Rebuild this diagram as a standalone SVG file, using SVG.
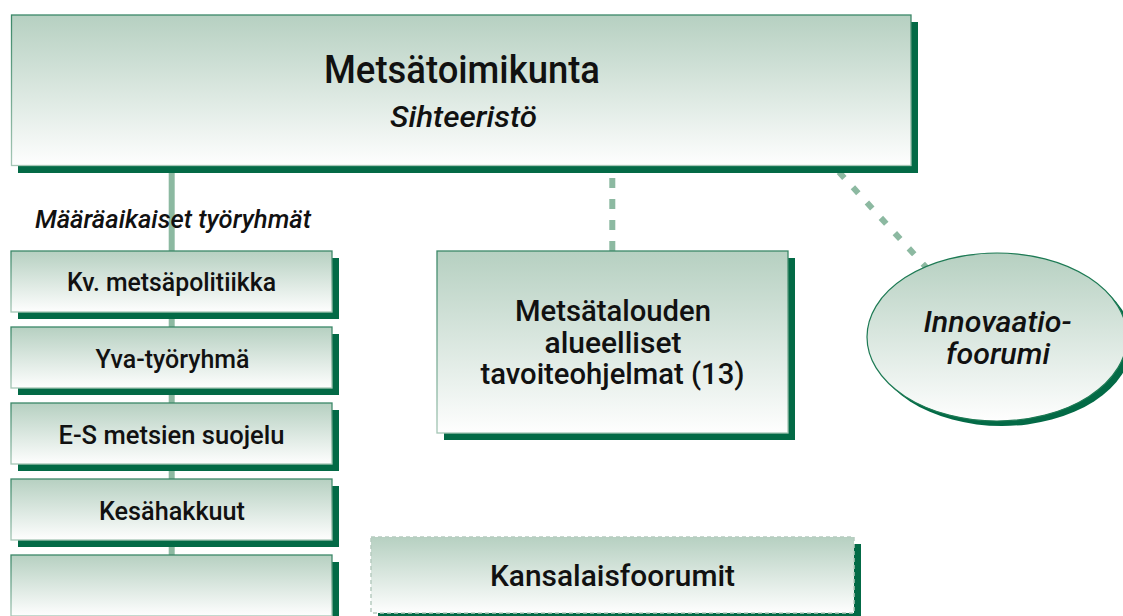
<svg xmlns="http://www.w3.org/2000/svg" width="1123" height="616" viewBox="0 0 1123 616">
<defs>
<linearGradient id="fill" x1="0" y1="0" x2="0" y2="1">
<stop offset="0" stop-color="#b6d0c1"/>
<stop offset="1" stop-color="#fefefe"/>
</linearGradient>
<linearGradient id="edge" x1="0" y1="0" x2="0" y2="1">
<stop offset="0" stop-color="#3a8767"/>
<stop offset="1" stop-color="#a5c6b5"/>
</linearGradient>
<style>
.box{fill:url(#fill);stroke:url(#edge);stroke-width:1.3}
.dashbox{fill:url(#fill);stroke:#b7ccc0;stroke-width:1.5;stroke-dasharray:4 3}
.ell{fill:url(#fill);stroke:#1d7a54;stroke-width:1.2}
.shadow{fill:#036a46}
.t{font-family:Roboto,"Liberation Sans",Arial,sans-serif;font-weight:500;fill:#111;text-anchor:middle}
.i{font-style:italic}
.s25{font-size:25px}
.s30{font-size:30px}
.conn{stroke:#8cb9a1;stroke-width:6;fill:none}
</style>
</defs>
<rect width="1123" height="616" fill="#ffffff"/>
<g id="connectors">
<line class="conn" x1="171.7" y1="165" x2="171.7" y2="616"/>
<line class="conn" x1="612.3" y1="178" x2="612.3" y2="251" stroke-dasharray="10 11"/>
<line class="conn" x1="811" y1="141.5" x2="935" y2="277" stroke-dasharray="8 12.7"/>
</g>
<g id="node-metsatoimikunta">
<rect class="shadow" x="18" y="22" width="900" height="151"/>
<rect class="box" x="11.5" y="15" width="899.5" height="150.5"/>
<text class="t" x="462" y="83" font-size="38" textLength="276" lengthAdjust="spacingAndGlyphs">Metsätoimikunta</text>
<text class="t i" x="463.5" y="127" font-size="30" textLength="147" lengthAdjust="spacingAndGlyphs">Sihteeristö</text>
</g>
<g id="label-maaraaikaiset">
<text class="t i s25" x="35" y="228" style="text-anchor:start" textLength="276" lengthAdjust="spacingAndGlyphs">Määräaikaiset työryhmät</text>
</g>
<g id="node-kv">
<rect class="shadow" x="18" y="258" width="321" height="61"/>
<rect class="box" x="11" y="251" width="321" height="61"/>
<text class="t s25" x="171.5" y="291" textLength="209" lengthAdjust="spacingAndGlyphs">Kv. metsäpolitiikka</text>
</g>
<g id="node-yva">
<rect class="shadow" x="18" y="334" width="321" height="61"/>
<rect class="box" x="11" y="327" width="321" height="61"/>
<text class="t s25" x="172.5" y="367.5" textLength="154" lengthAdjust="spacingAndGlyphs">Yva-työryhmä</text>
</g>
<g id="node-es">
<rect class="shadow" x="18" y="410" width="321" height="61"/>
<rect class="box" x="11" y="403" width="321" height="61"/>
<text class="t s25" x="171.5" y="443.5" textLength="226" lengthAdjust="spacingAndGlyphs">E-S metsien suojelu</text>
</g>
<g id="node-kesahakkuut">
<rect class="shadow" x="18" y="486" width="321" height="61"/>
<rect class="box" x="11" y="479" width="321" height="61"/>
<text class="t s25" x="172" y="519.5" textLength="146" lengthAdjust="spacingAndGlyphs">Kesähakkuut</text>
</g>
<g id="node-empty">
<rect class="shadow" x="18" y="562" width="321" height="61"/>
<rect class="box" x="11" y="555" width="321" height="61"/>
</g>
<g id="node-tavoiteohjelmat">
<rect class="shadow" x="444" y="258" width="351" height="182"/>
<rect class="box" x="437" y="251" width="351" height="182"/>
<text class="t s30" x="613" y="321" textLength="196" lengthAdjust="spacingAndGlyphs">Metsätalouden</text>
<text class="t s30" x="613" y="352.5" textLength="137" lengthAdjust="spacingAndGlyphs">alueelliset</text>
<text class="t s30" x="612.5" y="384" textLength="264" lengthAdjust="spacingAndGlyphs">tavoiteohjelmat (13)</text>
</g>
<g id="node-kansalaisfoorumit">
<rect class="shadow" x="378" y="544" width="483" height="76"/>
<rect class="dashbox" x="371" y="537" width="483" height="76"/>
<text class="t s30" x="612.5" y="586" textLength="245" lengthAdjust="spacingAndGlyphs">Kansalaisfoorumit</text>
</g>
<g id="node-innovaatiofoorumi">
<ellipse class="shadow" cx="1002" cy="342" rx="130" ry="84"/>
<ellipse class="ell" cx="997" cy="337" rx="130" ry="84"/>
<text class="t i s30" x="997.5" y="332" textLength="148" lengthAdjust="spacingAndGlyphs">Innovaatio-</text>
<text class="t i s30" x="998" y="364" textLength="104" lengthAdjust="spacingAndGlyphs">foorumi</text>
</g>
</svg>
